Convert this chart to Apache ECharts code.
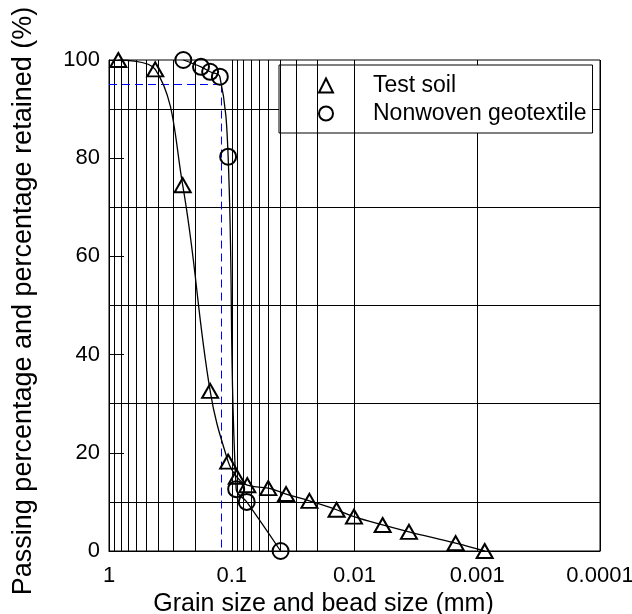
<!DOCTYPE html>
<html>
<head>
<meta charset="utf-8">
<script src="https://cdn.jsdelivr.net/npm/echarts@6/dist/echarts.min.js"></script>
<style>
  html, body { margin: 0; background: #fff; }
  #chart { width: 632px; height: 614px; }
</style>
</head>
<body>
<div id="chart"></div>
<script>
// test soil: grain size (mm) vs passing (%)
const soilSize = [0.84, 0.42, 0.251, 0.150, 0.107, 0.091, 0.0747, 0.0504, 0.0361, 0.0233, 0.0140, 0.0101, 0.0059, 0.0036, 0.0015, 0.00087];
const soilPass = [100, 98.1, 74.5, 32.6, 18.2, 15.1, 13.4, 12.8, 11.6, 10.2, 8.4, 7.0, 5.3, 3.9, 1.6, 0];

// nonwoven geotextile: bead size (mm) vs retained (%)
const geoSize = [0.248, 0.178, 0.150, 0.125, 0.107, 0.092, 0.0755, 0.040];
const geoRet = [100, 98.6, 97.6, 96.6, 80.3, 12.6, 10.0, 0];

// O95 marker
const o95Size = 0.121;
const o95Pct = 95;

const seriesNames = ['Test soil', 'Nonwoven geotextile'];

// minor log grid lines 2..9 per decade
const minorLines = [];
for (let k = 1; k <= 4; k++) {
  for (let m = 2; m <= 9; m++) {
    minorLines.push({ xAxis: parseFloat((m * Math.pow(10, -k)).toPrecision(3)) });
  }
}

const font = 'Liberation Sans, Arial, sans-serif';
const chart = echarts.init(document.getElementById('chart'));

const markerStyle = {
  color: 'rgba(0,0,0,0)',
  borderColor: '#000',
  borderWidth: 2
};

const option = {
  backgroundColor: '#fff',
  animation: false,
  textStyle: { fontFamily: font, color: '#000' },
  grid: {
    left: 109, right: 32, top: 60, bottom: 63,
    outerBoundsMode: 'none',
    show: true, borderColor: '#000', borderWidth: 1
  },
  legend: {
    orient: 'vertical',
    left: 279,
    top: 65,
    padding: [9, 6, 8, 39],
    itemWidth: 14,
    itemHeight: 14,
    itemGap: 5,
    backgroundColor: '#fff',
    borderColor: '#000',
    borderWidth: 1,
    borderRadius: 0,
    textStyle: { fontSize: 23, color: '#000', fontFamily: font, padding: [0, 0, 0, 35] },
    data: [
      { name: seriesNames[0], icon: 'triangle', itemStyle: markerStyle },
      { name: seriesNames[1], icon: 'circle', itemStyle: markerStyle }
    ]
  },
  xAxis: {
    type: 'log',
    logBase: 10,
    min: 0.0001,
    max: 1,
    inverse: true,
    name: 'Grain size and bead size (mm)',
    nameLocation: 'middle',
    nameGap: 37,
    nameTextStyle: { fontSize: 25, color: '#000', fontFamily: font, padding: [0, 62, 0, 0] },
    axisLine: { lineStyle: { color: '#000', width: 1 } },
    axisTick: { inside: true, length: 15, lineStyle: { color: '#000' } },
    axisLabel: {
      fontSize: 22, color: '#000', margin: 14, fontFamily: font,
      formatter: v => String(parseFloat(Number(v).toPrecision(4)))
    },
    splitLine: { show: true, lineStyle: { color: '#000', width: 1 } },
    minorTick: { show: false },
    minorSplitLine: { show: false }
  },
  yAxis: {
    type: 'value',
    min: 0,
    max: 100,
    interval: 20,
    name: 'Passing percentage and percentage retained (%)',
    nameLocation: 'middle',
    nameGap: 72,
    nameTextStyle: { fontSize: 27, color: '#000', fontFamily: font, padding: [0, 0, 0, 9] },
    axisLine: { show: true, lineStyle: { color: '#000', width: 1 } },
    axisTick: { show: true, inside: true, length: 15, lineStyle: { color: '#000' } },
    axisLabel: { fontSize: 22, color: '#000', margin: 9, fontFamily: font },
    splitLine: { show: false },
    minorTick: { show: false, splitNumber: 2 },
    minorSplitLine: { show: true, lineStyle: { color: '#000', width: 1 } }
  },
  series: [
    {
      // grid decoration: minor log lines
      type: 'line',
      name: 'grid',
      data: [],
      z: 1,
      silent: true,
      markLine: {
        silent: true,
        symbol: 'none',
        label: { show: false },
        lineStyle: { color: '#000', width: 1, type: 'solid' },
        animation: false,
        data: minorLines
      }
    },
    {
      type: 'line',
      name: 'o95',
      data: [],
      z: 2,
      silent: true,
      markLine: {
        silent: true,
        symbol: 'none',
        label: { show: false },
        lineStyle: { color: '#0000ff', width: 1, type: [8, 5] },
        animation: false,
        data: [
          [{ coord: [1, o95Pct] }, { coord: [o95Size, o95Pct] }],
          [{ coord: [o95Size, o95Pct] }, { coord: [o95Size, 0] }]
        ]
      }
    },
    {
      type: 'line',
      name: seriesNames[0],
      z: 5,
      data: soilSize.map((s, i) => [s, soilPass[i]]),
      smooth: 0.4,
      symbol: 'triangle',
      symbolSize: [16, 14],
      itemStyle: markerStyle,
      lineStyle: { color: '#000', width: 1.3 }
    },
    {
      type: 'line',
      name: seriesNames[1],
      z: 5,
      data: geoSize.map((s, i) => [s, geoRet[i]]),
      smooth: 0.4,
      symbol: 'circle',
      symbolSize: 16,
      itemStyle: markerStyle,
      lineStyle: { color: '#000', width: 1.3 }
    }
  ]
};

chart.setOption(option);
</script>
</body>
</html>
